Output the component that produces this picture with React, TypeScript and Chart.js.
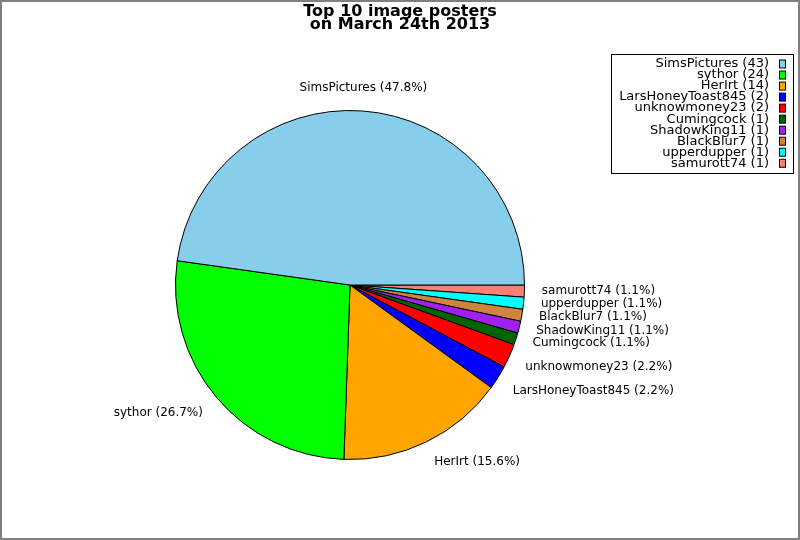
import React, { useEffect, useRef } from "react";
import { Chart, registerables } from "chart.js";

Chart.register(...registerables);

const names = [
  "SimsPictures",
  "sythor",
  "HerIrt",
  "LarsHoneyToast845",
  "unknowmoney23",
  "Cumingcock",
  "ShadowKing11",
  "BlackBlur7",
  "upperdupper",
  "samurott74",
];
const counts = [43, 24, 14, 2, 2, 1, 1, 1, 1, 1];
const colors = [
  "#87CEEB",
  "#00FF00",
  "#FFA500",
  "#0000FF",
  "#FF0000",
  "#006400",
  "#A020F0",
  "#CD853F",
  "#00FFFF",
  "#FA8072",
];
const titleLines = ["Top 10 image posters", "on March 24th 2013"];

const FONT = "DejaVu Sans";

export default function App() {
  const ref = useRef<HTMLCanvasElement>(null);
  useEffect(() => {
    document.body.style.margin = "0";
    const total = counts.reduce((a, b) => a + b, 0);
    // Chart.js draws clockwise; reverse so the pie reads counter-clockwise from 3 o'clock.
    const rNames = [...names].reverse();
    const rCounts = [...counts].reverse();
    const rColors = [...colors].reverse();

    const decor = {
      id: "decor",
      afterDraw(chart: any) {
        const ctx = chart.ctx as CanvasRenderingContext2D;
        const meta = chart.getDatasetMeta(0);
        ctx.save();
        // slice labels
        ctx.fillStyle = "#000";
        ctx.font = `12px "${FONT}"`;
        ctx.textBaseline = "middle";
        meta.data.forEach((arc: any, i: number) => {
          const mid = (arc.startAngle + arc.endAngle) / 2;
          const r = arc.outerRadius * 1.1;
          const x = arc.x + r * Math.cos(mid);
          const y = arc.y + r * Math.sin(mid);
          // counter-clockwise degrees from 3 o'clock
          let deg = (-mid * 180) / Math.PI;
          deg = ((deg % 360) + 360) % 360;
          const sector = Math.round(deg / 45) % 8;
          let ha: CanvasTextAlign = "left";
          if (sector === 2 || sector === 6) ha = "center";
          else if (sector >= 3 && sector <= 5) ha = "right";
          let dy = -1;
          if (sector >= 1 && sector <= 3) dy = -5.5;
          else if (sector >= 5 && sector <= 7) dy = 4;
          ctx.textAlign = ha;
          const pct = ((rCounts[i] / total) * 100).toFixed(1);
          ctx.fillText(`${rNames[i]} (${pct}%)`, x, y + dy);
        });
        // title
        ctx.font = `bold 16px "${FONT}"`;
        ctx.textAlign = "center";
        ctx.textBaseline = "alphabetic";
        titleLines.forEach((t, i) => ctx.fillText(t, 400, 16 + i * 13.3));
        // legend
        const bx = 611, by = 54, bw = 182, bh = 119;
        ctx.fillStyle = "#fff";
        ctx.fillRect(bx, by, bw, bh);
        ctx.strokeStyle = "#000";
        ctx.lineWidth = 1;
        ctx.strokeRect(bx + 0.5, by + 0.5, bw, bh);
        ctx.font = `13px "${FONT}"`;
        ctx.textAlign = "right";
        ctx.textBaseline = "middle";
        names.forEach((n, i) => {
          const y = 64 + i * 11.03;
          ctx.fillStyle = "#000";
          ctx.fillText(`${n} (${counts[i]})`, 769, y);
          ctx.fillStyle = colors[i];
          ctx.fillRect(779.5, y - 4, 6, 8);
          ctx.strokeRect(779.5, y - 4, 6, 8);
        });
        // frame
        ctx.strokeStyle = "#808080";
        ctx.lineWidth = 2;
        ctx.strokeRect(1, 1, 798, 538);
        ctx.restore();
      },
    };

    const chart = new Chart(ref.current!, {
      type: "pie",
      data: {
        labels: rNames,
        datasets: [
          {
            data: rCounts,
            backgroundColor: rColors,
            borderColor: "#000",
            borderWidth: 1,
          },
        ],
      },
      options: {
        animation: false,
        responsive: false,
        rotation: 90,
        layout: { padding: { top: 110, bottom: 80, left: 175, right: 275 } },
        plugins: {
          legend: { display: false },
          tooltip: { enabled: false },
          title: { display: false },
        },
      },
      plugins: [decor],
    });
    return () => chart.destroy();
  }, []);
  return (
    <div style={{ width: 800, height: 540, background: "#fff" }}>
      <canvas ref={ref} width={800} height={540} style={{ display: "block" }} />
    </div>
  );
}
